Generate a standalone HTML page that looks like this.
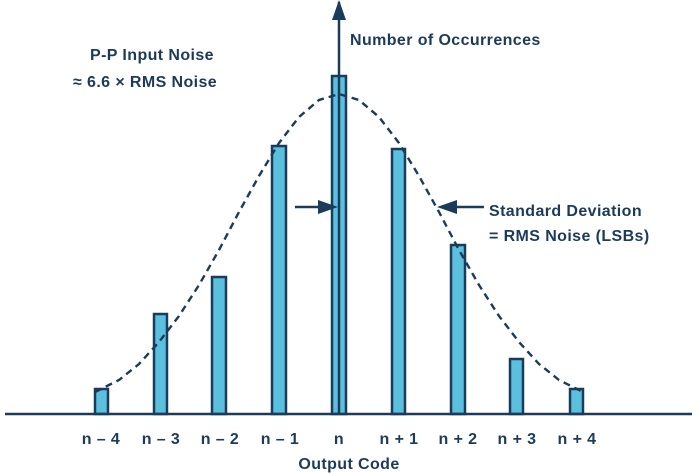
<!DOCTYPE html>
<html><head><meta charset="utf-8"><style>
html,body{margin:0;padding:0;background:#fff;}
svg{display:block;}
text{font-family:"Liberation Sans",sans-serif;fill:#1c3a5a;font-size:16px;font-weight:bold;letter-spacing:0.4px;}
</style></head><body>
<svg width="698" height="474" viewBox="0 0 698 474" xmlns="http://www.w3.org/2000/svg">
<g fill="#5bc0de" stroke="#1c3a5a" stroke-width="2.5">
<rect x="95" y="389" width="13" height="25"/>
<rect x="154" y="314" width="13" height="100"/>
<rect x="212" y="277" width="14" height="137"/>
<rect x="272" y="146" width="14" height="268"/>
<rect x="332" y="76" width="14" height="338"/>
<rect x="392" y="149" width="13" height="265"/>
<rect x="451" y="245" width="14" height="169"/>
<rect x="510" y="359" width="13" height="55"/>
<rect x="570" y="389" width="13" height="25"/>
</g>
<line x1="5" y1="414" x2="692" y2="414" stroke="#1c3a5a" stroke-width="2.5"/>
<line x1="339" y1="414" x2="339" y2="2" stroke="#1c3a5a" stroke-width="2.5"/>
<path d="M339,0 L332,20 L346,20 Z" fill="#1c3a5a"/>
<polyline fill="none" stroke="#1c3a5a" stroke-width="2.4" stroke-dasharray="7,5" points="95,392 119,380 139,364 159,342 179,316 199,285 219,250 239,212 259,176 279,143 299,117 319,100 339,94 359,100 379,117 399,143 419,176 439,212 459,250 479,285 499,316 519,342 539,364 559,380 583,392"/>
<line x1="295" y1="207" x2="320" y2="207" stroke="#1c3a5a" stroke-width="2.5"/>
<path d="M338,207 L318,200 L318,214 Z" fill="#1c3a5a"/>
<line x1="484" y1="207" x2="455" y2="207" stroke="#1c3a5a" stroke-width="2.5"/>
<path d="M437,207 L457,200 L457,214 Z" fill="#1c3a5a"/>
<text x="350" y="45">Number of Occurrences</text>
<text x="90" y="60">P-P Input Noise</text>
<text x="73" y="87">≈ 6.6 × RMS Noise</text>
<text x="489" y="216">Standard Deviation</text>
<text x="489" y="241">= RMS Noise (LSBs)</text>
<g text-anchor="middle">
<text x="101" y="444">n – 4</text>
<text x="161" y="444">n – 3</text>
<text x="220" y="444">n – 2</text>
<text x="280" y="444">n – 1</text>
<text x="339" y="444">n</text>
<text x="399" y="444">n + 1</text>
<text x="458" y="444">n + 2</text>
<text x="517" y="444">n + 3</text>
<text x="577" y="444">n + 4</text>
<text x="349" y="469">Output Code</text>
</g>
</svg>
</body></html>
